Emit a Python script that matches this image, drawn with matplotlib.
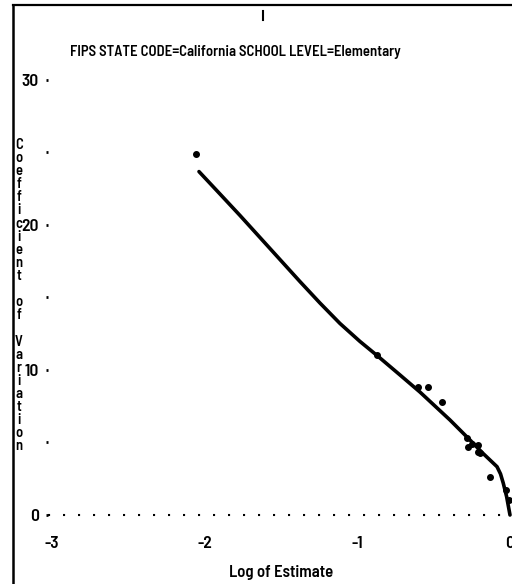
import matplotlib
matplotlib.use("Agg")
import matplotlib.pyplot as plt
from matplotlib.lines import Line2D

plt.rcParams['axes.unicode_minus'] = False
FONT = ['Barlow Semi Condensed', 'Barlow Condensed', 'DejaVu Sans']
plt.rcParams['font.family'] = FONT
plt.rcParams['font.weight'] = 'semibold'

title = "FIPS STATE CODE=California SCHOOL LEVEL=Elementary"
x_label = "Log of Estimate"
y_label = "Coefficient of Variation"

# Observed points
pt_x = [-2.057, -0.87, -0.605, -0.535, -0.448, -0.284, -0.273, -0.25, -0.21,
        -0.208, -0.197, -0.131, -0.023, -0.008]
pt_y = [24.9, 11.0, 8.8, 8.85, 7.77, 5.3, 4.71, 4.9, 4.8, 4.37, 4.3, 2.64, 1.7, 1.0]

# Smooth curve
curve_x = [-2.037, -1.900, -1.769, -1.638, -1.507, -1.376, -1.245, -1.114, -0.983,
           -0.871, -0.721, -0.590, -0.393, -0.262, -0.177, -0.085, -0.062,
           -0.044, -0.022, 0.0]
curve_y = [23.68, 22.14, 20.66, 19.14, 17.62, 16.10, 14.62, 13.21, 11.97,
           11.0, 9.66, 8.48, 6.55, 5.17, 4.25, 3.33, 2.83,
           2.19, 1.26, 0.0]

x_ticks = [-3, -2, -1, 0]
y_ticks = [0, 10, 20, 30]
y_minor = [5, 15, 25]

W, H = 512, 584
fig = plt.figure(figsize=(W / 100, H / 100), dpi=100)
fig.patch.set_facecolor('white')

# axes: left px 48, right px 512, bottom px 518, top px 75
ax = fig.add_axes([48 / W, 1 - 518 / H, (512 - 48) / W, (518 - 75) / H])
ax.set_xlim(-3.026, 0.0131)
ax.set_ylim(-0.207, 30.34)

for s in ax.spines.values():
    s.set_visible(False)

ax.plot(curve_x, curve_y, color='black', lw=2.6, solid_capstyle='round',
        solid_joinstyle='round', clip_on=False)
ax.plot(pt_x, pt_y, 'o', color='black', ms=4, clip_on=False)

ax.axhline(0, color='black', lw=1.5, ls=(0, (1, 6.2)), clip_on=False)

ax.set_xticks(x_ticks)
ax.set_xticklabels([str(v) for v in x_ticks])
ax.set_yticks(y_ticks)
ax.set_yticklabels([str(v) for v in y_ticks])
ax.set_yticks(y_minor, minor=True)
ax.tick_params(axis='x', length=0, pad=13, labelsize=12.5)
ax.tick_params(axis='y', which='major', direction='out', length=1.5, width=2,
               pad=5, labelsize=12.5)
ax.tick_params(axis='y', which='minor', direction='out', length=1.5, width=2)

fig.text(235 / W, 1 - 52 / H, title, ha='center', va='center', fontsize=10.6,
         fontweight='semibold')
fig.text(281 / W, 1 - 572 / H, x_label, ha='center', va='center', fontsize=12,
         fontweight='semibold')

# stacked vertical y label
y0 = 145
step = 13.1
for i, ch in enumerate(y_label):
    if ch == ' ':
        continue
    fig.text(19 / W, 1 - (y0 + i * step) / H, ch, ha='center', va='center',
             fontsize=10.5, fontweight='semibold')

# page border
fig.add_artist(Line2D([13 / W, 13 / W], [0, 1 - 5 / H], color='black', lw=1.8,
                      transform=fig.transFigure))
fig.add_artist(Line2D([13 / W, 1], [1 - 5 / H, 1 - 5 / H], color='black', lw=1.6,
                      transform=fig.transFigure))
fig.add_artist(Line2D([263 / W, 263 / W], [1 - 11 / H, 1 - 20 / H], color='black',
                      lw=1.5, transform=fig.transFigure))

fig.savefig("out.png", dpi=100, facecolor='white')
